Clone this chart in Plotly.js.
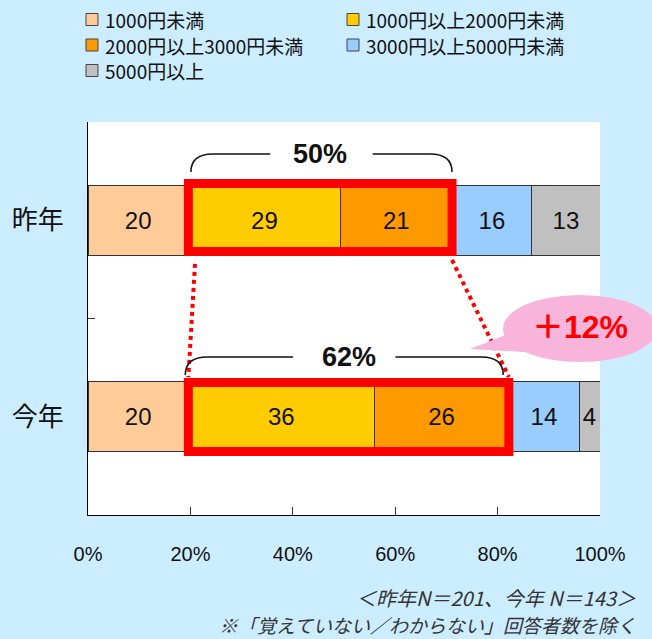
<!DOCTYPE html>
<html>
<head>
<meta charset="utf-8">
<script src="https://cdn.plot.ly/plotly-3.0.1.min.js"></script>
<style>
  html, body { margin: 0; padding: 0; background: #CCECFF; }
  #chart { width: 652px; height: 639px; }
</style>
</head>
<body>
<div id="chart"></div>
<script>
// ---- data ----
const categories = ['昨年', '今年'];
const seriesNames = ['1000円未満', '1000円以上2000円未満', '2000円以上3000円未満', '3000円以上5000円未満', '5000円以上'];
const seriesColors = ['#FFCC99', '#FFCC00', '#FF9900', '#99CCFF', '#C0C0C0'];
const lastYearValues = [19.6, 29.7, 21.8, 15.6, 13.3];
const thisYearValues = [19.6, 36.3, 26.3, 13.7, 4.1];
const lastYearLabels = ['20', '29', '21', '16', '13'];
const thisYearLabels = ['20', '36', '26', '14', '4'];
const xTickVals = [0, 20, 40, 60, 80, 100];
const xTickText = ['0%', '20%', '40%', '60%', '80%', '100%'];
const groupLabels = ['50%', '62%'];
const diffLabel = '＋12%';
const notes = ['＜昨年N＝201、今年 N＝143＞', '※「覚えていない／わからない」回答者数を除く'];

const LATIN = 'Liberation Sans, Arial, sans-serif';
const CJK = 'Noto Sans CJK JP, sans-serif';

const traces = seriesNames.map((name, i) => ({
  type: 'bar',
  orientation: 'h',
  name: name,
  y: categories,
  x: [lastYearValues[i], thisYearValues[i]],
  text: [lastYearLabels[i], thisYearLabels[i]],
  textposition: 'inside',
  insidetextanchor: 'middle',
  textangle: 0,
  constraintext: 'none',
  textfont: { family: LATIN, size: 24, color: '#111' },
  width: 0.356,
  marker: { color: seriesColors[i], line: { color: '#333', width: 1 } },
  showlegend: false,
  hoverinfo: 'skip'
}));

// highlighted group (2nd + 3rd series)
const lastStart = lastYearValues[0];
const lastEnd = lastYearValues[0] + lastYearValues[1] + lastYearValues[2];
const thisStart = thisYearValues[0];
const thisEnd = thisYearValues[0] + thisYearValues[1] + thisYearValues[2];

function bracket(x0, x1, yb, yt) {
  const r = 4.3, g = 10, mid = (x0 + x1) / 2;
  return `M ${x0},${yb} Q ${x0},${yt} ${x0 + r},${yt} L ${mid - g},${yt} ` +
         `M ${mid + g},${yt} L ${x1 - r},${yt} Q ${x1},${yt} ${x1},${yb}`;
}

const shapes = [
  // red highlight boxes
  { type: 'rect', xref: 'x', yref: 'paper', x0: lastStart, x1: lastEnd, y0: 0.6705, y1: 0.8435,
    line: { color: '#FF0000', width: 9 }, fillcolor: 'rgba(0,0,0,0)' },
  { type: 'rect', xref: 'x', yref: 'paper', x0: thisStart, x1: thisEnd, y0: 0.1616, y1: 0.3372,
    line: { color: '#FF0000', width: 9 }, fillcolor: 'rgba(0,0,0,0)' },
  // dotted connectors
  { type: 'line', xref: 'x', yref: 'paper', x0: lastStart + 1.3, y0: 0.6387, x1: thisStart, y1: 0.3511,
    line: { color: '#FF0000', width: 4, dash: 'dot' } },
  { type: 'line', xref: 'x', yref: 'paper', x0: lastEnd, y0: 0.6489, x1: thisEnd, y1: 0.3511,
    line: { color: '#FF0000', width: 4, dash: 'dot' } },
  // brackets
  { type: 'path', xref: 'x', yref: 'paper', path: bracket(lastStart + 0.5, lastEnd, 0.8728, 0.9186),
    line: { color: '#111', width: 1.5 } },
  { type: 'path', xref: 'x', yref: 'paper', path: bracket(thisStart - 0.6, thisEnd - 1.1, 0.3562, 0.4020),
    line: { color: '#111', width: 1.5 } },
  // callout
  { type: 'path', xref: 'paper', yref: 'paper', path: 'M 0.746,0.4224 L 0.8203,0.4606 L 0.8535,0.4148 Z',
    fillcolor: '#F8B4DA', line: { width: 0 } },
  { type: 'circle', xref: 'paper', yref: 'paper', x0: 0.8105, x1: 1.1113, y0: 0.3893, y1: 0.5598,
    fillcolor: '#F8B4DA', line: { width: 0 } }
];

const annotations = [
  { xref: 'x', yref: 'paper', x: (lastStart + lastEnd) / 2, y: 0.9186, text: groupLabels[0], showarrow: false,
    font: { family: LATIN, size: 27, color: '#111', weight: 'bold' }, xanchor: 'center', yanchor: 'middle' },
  { xref: 'x', yref: 'paper', x: (thisStart + thisEnd) / 2, y: 0.4020, text: groupLabels[1], showarrow: false,
    font: { family: LATIN, size: 27, color: '#111', weight: 'bold' }, xanchor: 'center', yanchor: 'middle' },
  { xref: 'paper', yref: 'paper', x: 0.961, y: 0.478, text: diffLabel, showarrow: false,
    font: { family: LATIN + ', ' + CJK, size: 32, color: '#FF0000', weight: 'bold' }, xanchor: 'center', yanchor: 'middle' },
  { xref: 'paper', yref: 'paper', x: 1.073, y: -0.2087, text: '<i>' + notes[0] + '</i>', showarrow: false,
    borderpad: 0, font: { family: CJK, size: 20, color: '#333' }, xanchor: 'right', yanchor: 'middle' },
  { xref: 'paper', yref: 'paper', x: 1.073, y: -0.2774, text: '<i>' + notes[1] + '</i>', showarrow: false,
    borderpad: 0, font: { family: CJK, size: 19, color: '#333' }, xanchor: 'right', yanchor: 'middle' }
];

// ---- legend (2 columns, drawn from the series arrays) ----
const legendCols = [-0.0039, 0.5059];         // left edge of symbol (paper x)
const legendRows = [1.2608, 1.1959, 1.1310];  // row centre (paper y)
const symW = 0.0234, symH = 0.01527;
seriesNames.forEach((name, i) => {
  const cx = legendCols[i % 2];
  const cy = legendRows[Math.floor(i / 2)];
  shapes.push({ type: 'rect', xref: 'paper', yref: 'paper', x0: cx, x1: cx + symW, y0: cy - symH, y1: cy + symH,
    fillcolor: seriesColors[i], line: { color: '#444', width: 1 } });
  annotations.push({ xref: 'paper', yref: 'paper', x: cx + symW + 0.0117, y: cy, text: name, showarrow: false,
    borderpad: 0, xanchor: 'left', yanchor: 'middle', font: { family: CJK, size: 19, color: '#111' } });
});

const layout = {
  width: 652, height: 639,
  margin: { l: 88, r: 52, t: 122, b: 124, pad: 0 },
  paper_bgcolor: '#CCECFF',
  plot_bgcolor: '#FFFFFF',
  barmode: 'stack',
  showlegend: false,
  xaxis: {
    range: [0, 100], tickvals: xTickVals, ticktext: xTickText,
    ticks: 'inside', ticklen: 8, tickcolor: '#333', tickwidth: 1,
    showline: true, linecolor: '#000', linewidth: 1,
    showgrid: false, zeroline: false,
    tickfont: { family: LATIN, size: 20, color: '#111' },
    ticklabelstandoff: 21, fixedrange: true
  },
  yaxis: {
    type: 'category', autorange: 'reversed',
    tickson: 'boundaries', ticks: 'inside', ticklen: 7, tickcolor: '#333',
    showline: true, linecolor: '#000', linewidth: 1,
    showgrid: false, zeroline: false,
    tickfont: { family: CJK, size: 26, color: '#111' },
    ticklabelstandoff: 18, fixedrange: true
  },
  shapes: shapes,
  annotations: annotations
};

Plotly.newPlot('chart', traces, layout, { displayModeBar: false, staticPlot: true });
</script>
</body>
</html>
